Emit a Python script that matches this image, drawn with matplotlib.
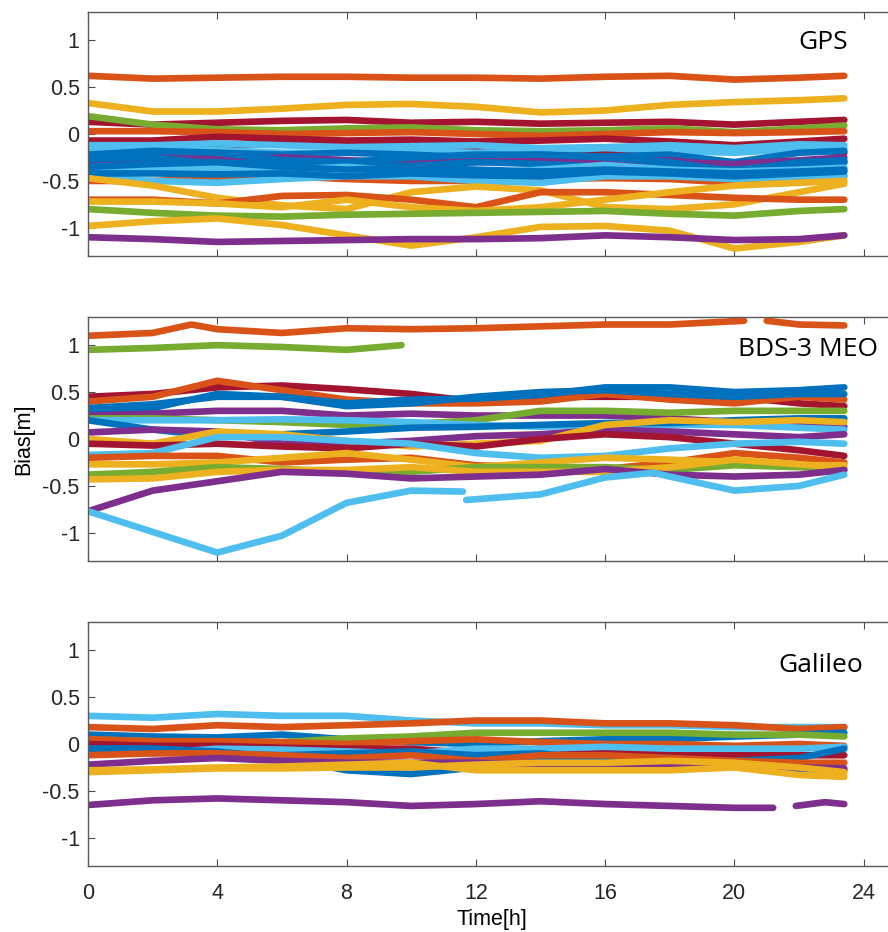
import numpy as np
import matplotlib
matplotlib.use("Agg")
import matplotlib.pyplot as plt

# MATLAB default colour order
BLUE, ORANGE, YELLOW, PURPLE, GREEN, LBLUE, DRED = (
    "#0072BD", "#D95319", "#EDB120", "#7E2F8E", "#77AC30", "#4DBEEE", "#A2142F")

# common sample times [h]
T = [0, 2, 4, 6, 8, 10, 12, 14, 16, 18, 20, 22, 23.4]

# ---------------- GPS ----------------
gps_series = [
    (ORANGE, T, [0.62, 0.59, 0.60, 0.61, 0.61, 0.60, 0.60, 0.59, 0.61, 0.62, 0.58, 0.60, 0.62]),
    (YELLOW, T, [0.33, 0.24, 0.24, 0.27, 0.31, 0.32, 0.29, 0.23, 0.25, 0.31, 0.34, 0.36, 0.38]),
    (DRED,   T, [0.13, 0.10, 0.12, 0.14, 0.15, 0.12, 0.13, 0.11, 0.12, 0.13, 0.10, 0.13, 0.15]),
    (GREEN,  T, [0.19, 0.10, 0.05, 0.04, 0.06, 0.07, 0.04, 0.03, 0.04, 0.06, 0.02, 0.06, 0.09]),
    (ORANGE, T, [0.03, 0.03, 0.02, 0.00, 0.01, 0.02, 0.00, -0.02, 0.00, 0.02, 0.01, 0.02, 0.03]),
    (DRED,   T, [-0.07, -0.07, -0.03, -0.05, -0.07, -0.06, -0.08, -0.07, -0.05, -0.08, -0.12, -0.08, -0.05]),
    (DRED,   T, [-0.10, -0.11, -0.12, -0.10, -0.12, -0.13, -0.14, -0.20, -0.20, -0.15, -0.17, -0.14, -0.20]),
    (LBLUE,  T, [-0.12, -0.12, -0.10, -0.12, -0.14, -0.13, -0.12, -0.15, -0.14, -0.12, -0.15, -0.11, -0.12]),
    (LBLUE,  T, [-0.17, -0.18, -0.17, -0.20, -0.20, -0.18, -0.20, -0.18, -0.15, -0.18, -0.20, -0.16, -0.15]),
    (BLUE,   T, [-0.22, -0.25, -0.20, -0.22, -0.20, -0.22, -0.25, -0.22, -0.24, -0.22, -0.30, -0.20, -0.18]),
    (PURPLE, T, [-0.25, -0.26, -0.22, -0.27, -0.30, -0.32, -0.28, -0.30, -0.30, -0.28, -0.35, -0.36, -0.30]),
    (PURPLE, T, [-0.30, -0.30, -0.28, -0.25, -0.28, -0.30, -0.30, -0.28, -0.27, -0.30, -0.32, -0.28, -0.25]),
    (BLUE,   T, [-0.22, -0.18, -0.20, -0.28, -0.30, -0.25, -0.22, -0.22, -0.25, -0.30, -0.40, -0.30, -0.28]),
    (BLUE,   T, [-0.27, -0.25, -0.32, -0.30, -0.33, -0.34, -0.30, -0.32, -0.35, -0.35, -0.38, -0.32, -0.30]),
    (LBLUE,  T, [-0.38, -0.36, -0.36, -0.38, -0.35, -0.40, -0.42, -0.38, -0.33, -0.38, -0.40, -0.38, -0.36]),
    (BLUE,   T, [-0.35, -0.32, -0.30, -0.35, -0.38, -0.36, -0.38, -0.40, -0.38, -0.40, -0.42, -0.40, -0.38]),
    (ORANGE, T, [-0.50, -0.50, -0.47, -0.45, -0.48, -0.50, -0.50, -0.48, -0.47, -0.48, -0.52, -0.48, -0.45]),
    (LBLUE,  T, [-0.45, -0.50, -0.52, -0.48, -0.45, -0.45, -0.50, -0.52, -0.45, -0.45, -0.48, -0.45, -0.44]),
    (BLUE,   T, [-0.42, -0.42, -0.43, -0.42, -0.45, -0.42, -0.44, -0.45, -0.40, -0.42, -0.45, -0.42, -0.40]),
    (YELLOW, T, [-0.47, -0.55, -0.68, -0.76, -0.80, -0.62, -0.56, -0.60, -0.78, -0.80, -0.75, -0.62, -0.53]),
    (ORANGE, T, [-0.70, -0.70, -0.74, -0.66, -0.65, -0.70, -0.78, -0.62, -0.62, -0.65, -0.68, -0.70, -0.70]),
    (YELLOW, T, [-0.72, -0.72, -0.74, -0.78, -0.70, -0.78, -0.82, -0.78, -0.70, -0.62, -0.55, -0.52, -0.50]),
    (GREEN,  T, [-0.80, -0.84, -0.87, -0.88, -0.86, -0.85, -0.84, -0.83, -0.82, -0.85, -0.87, -0.82, -0.80]),
    (YELLOW, T, [-0.98, -0.93, -0.90, -0.97, -1.08, -1.19, -1.10, -0.99, -0.98, -1.03, -1.22, -1.15, -1.08]),
    (PURPLE, T, [-1.10, -1.12, -1.15, -1.14, -1.13, -1.12, -1.12, -1.11, -1.08, -1.10, -1.13, -1.12, -1.08]),
]

# ---------------- BDS-3 MEO ----------------
T_bds_o1 = [0, 2, 3.2, 4, 6, 8, 10, 12, 14, 16, 18, 20.3]
T_bds_o2 = [21.0, 22, 23.4]
T_bds_g = [0, 2, 4, 6, 8, 9.7]
T_bds_lb1 = [0, 2, 4, 6, 8, 10, 11.6]
T_bds_lb2 = [11.7, 14, 16, 17.5, 18, 20, 22, 23.4]

bds_series = [
    (ORANGE, T_bds_o1, [1.10, 1.13, 1.22, 1.17, 1.13, 1.18, 1.17, 1.18, 1.20, 1.22, 1.22, 1.26]),
    (ORANGE, T_bds_o2, [1.26, 1.22, 1.21]),
    (GREEN,  T_bds_g,  [0.95, 0.97, 1.00, 0.98, 0.95, 1.00]),
    (DRED,   T, [0.45, 0.48, 0.55, 0.57, 0.53, 0.48, 0.40, 0.45, 0.45, 0.45, 0.45, 0.38, 0.35]),
    (ORANGE, T, [0.40, 0.45, 0.62, 0.52, 0.42, 0.38, 0.38, 0.40, 0.48, 0.42, 0.38, 0.45, 0.42]),
    (BLUE,   T, [0.33, 0.37, 0.45, 0.45, 0.38, 0.42, 0.43, 0.47, 0.55, 0.55, 0.50, 0.52, 0.55]),
    (BLUE,   T, [0.30, 0.33, 0.48, 0.45, 0.35, 0.38, 0.45, 0.50, 0.52, 0.48, 0.45, 0.48, 0.48]),
    (PURPLE, T, [0.25, 0.27, 0.30, 0.30, 0.25, 0.27, 0.25, 0.25, 0.25, 0.22, 0.18, 0.15, 0.13]),
    (GREEN,  T, [0.22, 0.22, 0.20, 0.18, 0.15, 0.16, 0.20, 0.30, 0.30, 0.28, 0.30, 0.30, 0.30]),
    (LBLUE,  T, [0.20, 0.20, 0.20, 0.21, 0.20, 0.18, 0.15, 0.13, 0.15, 0.15, 0.15, 0.12, 0.10]),
    (BLUE,   T, [0.20, 0.10, 0.03, 0.05, 0.08, 0.12, 0.13, 0.15, 0.17, 0.17, 0.20, 0.22, 0.22]),
    (PURPLE, T, [0.07, 0.10, 0.08, -0.05, -0.05, -0.02, 0.03, 0.05, 0.10, 0.08, 0.05, 0.02, 0.05]),
    (YELLOW, T, [0.00, -0.05, 0.08, 0.05, -0.02, -0.08, -0.05, -0.02, 0.15, 0.20, 0.18, 0.20, 0.18]),
    (DRED,   T, [-0.05, -0.07, -0.05, -0.08, -0.10, -0.05, -0.08, 0.00, 0.05, 0.02, -0.05, -0.12, -0.18]),
    (LBLUE,  T, [-0.17, -0.15, 0.02, 0.02, -0.02, -0.05, -0.15, -0.20, -0.18, -0.10, -0.05, -0.03, -0.05]),
    (ORANGE, T, [-0.20, -0.18, -0.18, -0.25, -0.22, -0.20, -0.28, -0.30, -0.32, -0.25, -0.15, -0.20, -0.25]),
    (YELLOW, T, [-0.27, -0.27, -0.25, -0.20, -0.15, -0.22, -0.30, -0.25, -0.20, -0.22, -0.25, -0.28, -0.28]),
    (GREEN,  T, [-0.38, -0.35, -0.30, -0.32, -0.35, -0.35, -0.30, -0.30, -0.30, -0.33, -0.28, -0.30, -0.32]),
    (YELLOW, T, [-0.43, -0.42, -0.35, -0.33, -0.33, -0.30, -0.35, -0.35, -0.35, -0.30, -0.22, -0.27, -0.30]),
    (PURPLE, T, [-0.77, -0.55, -0.45, -0.35, -0.37, -0.42, -0.40, -0.38, -0.32, -0.38, -0.40, -0.38, -0.33]),
    (LBLUE,  T_bds_lb1, [-0.77, -0.99, -1.21, -1.03, -0.68, -0.55, -0.56]),
    (LBLUE,  T_bds_lb2, [-0.65, -0.59, -0.41, -0.36, -0.40, -0.55, -0.50, -0.38]),
]

# ---------------- Galileo ----------------
T_gal_p1 = [0, 2, 4, 6, 8, 10, 12, 14, 16, 18, 20, 21.2]
T_gal_p2 = [21.9, 22.8, 23.4]

gal_series = [
    (LBLUE,  T, [0.30, 0.28, 0.32, 0.30, 0.30, 0.25, 0.22, 0.22, 0.20, 0.20, 0.18, 0.18, 0.18]),
    (ORANGE, T, [0.18, 0.16, 0.20, 0.18, 0.20, 0.22, 0.25, 0.25, 0.22, 0.22, 0.20, 0.16, 0.18]),
    (BLUE,   T, [0.10, 0.08, 0.07, 0.10, 0.05, 0.02, 0.00, 0.03, 0.05, 0.05, 0.08, 0.10, 0.12]),
    (GREEN,  T, [0.05, 0.03, 0.02, 0.02, 0.06, 0.08, 0.12, 0.12, 0.12, 0.12, 0.10, 0.10, 0.08]),
    (ORANGE, T, [0.05, 0.03, 0.03, 0.02, 0.00, 0.03, 0.05, 0.02, 0.00, 0.00, -0.02, 0.00, -0.02]),
    (DRED,   T, [0.00, -0.02, -0.02, -0.04, -0.05, -0.05, -0.10, -0.05, -0.08, -0.10, -0.12, -0.12, -0.12]),
    (LBLUE,  T, [-0.08, -0.10, -0.05, -0.06, -0.08, -0.10, -0.05, -0.05, -0.03, -0.05, -0.05, -0.05, -0.03]),
    (BLUE,   T, [-0.05, -0.05, -0.08, -0.15, -0.28, -0.32, -0.25, -0.15, -0.15, -0.15, -0.20, -0.28, -0.28]),
    (BLUE,   T, [-0.05, -0.05, -0.10, -0.12, -0.10, -0.08, -0.12, -0.10, -0.18, -0.20, -0.18, -0.15, -0.05]),
    (ORANGE, T, [-0.12, -0.10, -0.10, -0.12, -0.15, -0.12, -0.18, -0.12, -0.12, -0.15, -0.18, -0.20, -0.20]),
    (PURPLE, T, [-0.22, -0.18, -0.15, -0.18, -0.20, -0.20, -0.20, -0.22, -0.22, -0.25, -0.22, -0.25, -0.26]),
    (YELLOW, T, [-0.30, -0.28, -0.26, -0.26, -0.25, -0.25, -0.22, -0.20, -0.20, -0.18, -0.20, -0.25, -0.30]),
    (YELLOW, T, [-0.28, -0.27, -0.25, -0.24, -0.22, -0.20, -0.28, -0.28, -0.28, -0.28, -0.25, -0.33, -0.35]),
    (PURPLE, T_gal_p1, [-0.65, -0.60, -0.58, -0.60, -0.62, -0.66, -0.64, -0.61, -0.64, -0.66, -0.68, -0.68]),
    (PURPLE, T_gal_p2, [-0.66, -0.62, -0.64]),
]

panel_titles = ["GPS", "BDS-3 MEO", "Galileo"]
title_pos = [(23.5, 0.97), (24.43, 0.95), (23.97, 0.84)]
x_ticks = [0, 4, 8, 12, 16, 20, 24]
y_ticks = [-1, -0.5, 0, 0.5, 1]
y_ticklabels = ["-1", "-0.5", "0", "0.5", "1"]

W, H = 888, 932
fig = plt.figure(figsize=(W / 100, H / 100), dpi=100)

tick_font = "Liberation Sans"
axes_tops = [12, 317, 622]
ax_h = 244
left_px, right_px = 88, 896

for i, (series, title) in enumerate(zip([gps_series, bds_series, gal_series], panel_titles)):
    top = axes_tops[i]
    ax = fig.add_axes([left_px / W, (H - top - ax_h) / H, (right_px - left_px) / W, ax_h / H])
    for color, tt, vv in series:
        ax.plot(tt, vv, color=color, lw=4.8, solid_capstyle="round", solid_joinstyle="round")
    ax.set_xlim(0, 25)
    ax.set_ylim(-1.3, 1.3)
    ax.set_xticks(x_ticks)
    ax.set_yticks(y_ticks)
    ax.set_yticklabels(y_ticklabels, fontfamily=tick_font, fontsize=15.5)
    ax.tick_params(direction="in", top=True, right=True, length=5, width=0.8,
                   color="#4a4a4a", labelcolor="#262626")
    ax.tick_params(axis="y", pad=6)
    ax.tick_params(axis="x", pad=12)
    if i == 2:
        ax.set_xticklabels([str(v) for v in x_ticks], fontfamily=tick_font, fontsize=15.5)
        ax.set_xlabel("Time[h]", fontfamily=tick_font, fontsize=15.5, labelpad=4)
    else:
        ax.set_xticklabels([])
    if i == 1:
        ax.set_ylabel("Bias[m]", fontfamily=tick_font, fontsize=15.5, labelpad=6)
    for s in ax.spines.values():
        s.set_color("#5a5a5a")
        s.set_linewidth(1.0)
    ax.text(title_pos[i][0], title_pos[i][1], title, ha="right", va="center",
            fontfamily="Open Sans", fontsize=19, color="black")

fig.savefig("out.png", dpi=100)
